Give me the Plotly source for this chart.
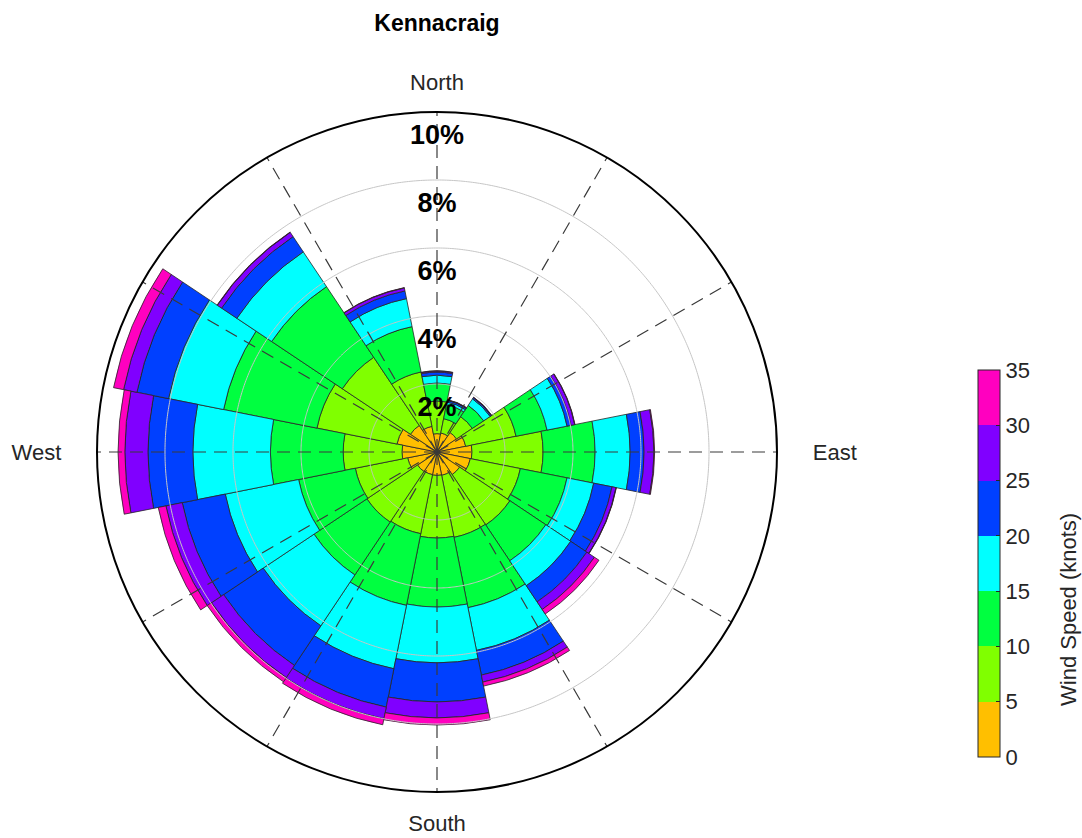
import numpy as np
import plotly.graph_objects as go

# Wind rose for Kennacraig: percentage of time per direction sector,
# split by wind-speed class (knots).
directions = [0, 22.5, 45, 67.5, 90, 112.5, 135, 157.5,
              180, 202.5, 225, 247.5, 270, 292.5, 315, 337.5]
sector_width = 22.5

speed_edges = [0, 5, 10, 15, 20, 25, 30, 35]
speed_colors = ["#FFBF00", "#80FF00", "#00FF40", "#00FFFF",
                "#0040FF", "#8000FF", "#FF00BF"]

# Frequency (%) of each speed class per direction sector (N, NNE, ... NNW)
freq_0_5 = [0.54, 0.57, 0.69, 0.86, 1.03, 1.00, 0.80, 0.70,
            0.69, 0.68, 0.69, 0.88, 1.03, 1.20, 0.94, 0.77]
freq_5_10 = [0.96, 0.43, 0.56, 1.51, 2.09, 1.50, 1.78, 1.86,
             1.84, 1.77, 1.79, 1.57, 1.73, 2.40, 2.41, 1.63]
freq_10_15 = [0.53, 0.42, 0.40, 0.93, 1.53, 1.40, 1.27, 2.11,
              2.03, 2.15, 1.87, 1.70, 2.14, 2.80, 2.50, 1.36]
freq_15_20 = [0.23, 0.08, 0.23, 0.60, 1.03, 0.80, 0.88, 1.28,
              1.64, 1.90, 1.80, 2.20, 2.28, 1.65, 1.23, 0.84]
freq_20_25 = [0.09, 0.05, 0.04, 0.12, 0.41, 0.55, 0.57, 0.74,
              1.15, 1.15, 1.40, 1.29, 1.32, 0.95, 0.54, 0.23]
freq_25_30 = [0.03, 0.01, 0.01, 0.11, 0.29, 0.12, 0.27, 0.21,
              0.47, 0.35, 0.43, 0.49, 0.68, 0.40, 0.15, 0.09]
freq_30_35 = [0.01, 0.01, 0.01, 0.01, 0.02, 0.01, 0.16, 0.12,
              0.21, 0.18, 0.15, 0.23, 0.20, 0.30, 0.01, 0.01]

speed_freqs = [freq_0_5, freq_5_10, freq_10_15, freq_15_20,
               freq_20_25, freq_25_30, freq_30_35]

radial_ticks = [2, 4, 6, 8, 10]
radial_labels = ["2%", "4%", "6%", "8%", "10%"]
spoke_angles = list(range(0, 360, 30))
cardinal_angles = [0, 90, 180, 270]
cardinal_names = ["North", "\u00a0\u00a0\u00a0East", "South", "West\u00a0\u00a0\u00a0"]

FONT = "Liberation Sans, Arial, Helvetica, sans-serif"

# discrete colour scale, one flat band per speed class
cmax = speed_edges[-1]
colorscale = []
for i, c in enumerate(speed_colors):
    colorscale.append([speed_edges[i] / cmax, c])
    colorscale.append([speed_edges[i + 1] / cmax, c])

fig = go.Figure()

for i, vals in enumerate(speed_freqs):
    mid = (speed_edges[i] + speed_edges[i + 1]) / 2
    fig.add_trace(go.Barpolar(
        r=vals,
        theta=directions,
        width=[sector_width] * len(directions),
        marker=dict(color=[mid] * len(directions), coloraxis="coloraxis",
                    line=dict(color="#262626", width=0.8)),
        name=f"{speed_edges[i]}-{speed_edges[i + 1]} knots",
        showlegend=False,
    ))

# percentage rings drawn over the bars
ring_theta = np.linspace(0, 360, 721)
for rv in radial_ticks[:-1]:
    fig.add_trace(go.Scatterpolar(
        r=[rv] * len(ring_theta), theta=ring_theta, mode="lines",
        line=dict(color="#c6c6c6", width=1),
        hoverinfo="skip", showlegend=False))

# dashed direction spokes every 30 degrees
for ang in spoke_angles:
    fig.add_trace(go.Scatterpolar(
        r=[0, radial_ticks[-1]], theta=[ang, ang], mode="lines",
        line=dict(color="#3a3a3a", width=1.2, dash="13px,8px"),
        hoverinfo="skip", showlegend=False))

# radial percentage labels along the north spoke
fig.add_trace(go.Scatterpolar(
    r=[t - 0.35 for t in radial_ticks], theta=[0] * len(radial_ticks),
    mode="text", text=[f"<b>{s}</b>" for s in radial_labels],
    textposition="bottom center",
    textfont=dict(family=FONT, size=27, color="black"),
    cliponaxis=False, hoverinfo="skip", showlegend=False))

W, H = 1082, 838
cx, cy, R = 437, 452, 340

fig.update_layout(
    width=W, height=H,
    margin=dict(l=0, r=0, t=0, b=0),
    paper_bgcolor="white",
    font=dict(family=FONT, color="#262626"),
    title=dict(text="<b>Kennacraig</b>", x=cx / W, xanchor="center",
               y=1 - 23 / H, yanchor="middle",
               font=dict(family=FONT, size=23, color="black")),
    polar=dict(
        domain=dict(x=[(cx - R) / W, (cx + R) / W],
                    y=[(H - cy - R) / H, (H - cy + R) / H]),
        bgcolor="white",
        barmode="stack",
        radialaxis=dict(range=[0, radial_ticks[-1]], showgrid=False,
                        showticklabels=False, ticks="", showline=False),
        angularaxis=dict(rotation=90, direction="clockwise",
                         tickvals=cardinal_angles, ticktext=cardinal_names,
                         showgrid=False, showline=True, linecolor="black",
                         linewidth=2, ticks="outside", ticklen=12,
                         tickcolor="rgba(0,0,0,0)",
                         tickfont=dict(family=FONT, size=22, color="#262626")),
    ),
    coloraxis=dict(
        cmin=0, cmax=cmax, colorscale=colorscale,
        colorbar=dict(
            x=978 / W, xanchor="left", xpad=0,
            y=(H - 563.5) / H, yanchor="middle", ypad=0,
            len=387, lenmode="pixels", thickness=22,
            outlinecolor="#262626", outlinewidth=1,
            tickvals=speed_edges, ticks="inside", ticklen=4,
            tickcolor="#262626",
            tickfont=dict(family=FONT, size=22, color="#262626"),
        ),
    ),
    annotations=[dict(
        text="Wind Speed (knots)", textangle=-90,
        x=1068 / W, y=(H - 610) / H, xref="paper", yref="paper",
        xanchor="center", yanchor="middle", showarrow=False,
        font=dict(family=FONT, size=22, color="#262626"),
    )],
)

fig.write_html("out.html")
